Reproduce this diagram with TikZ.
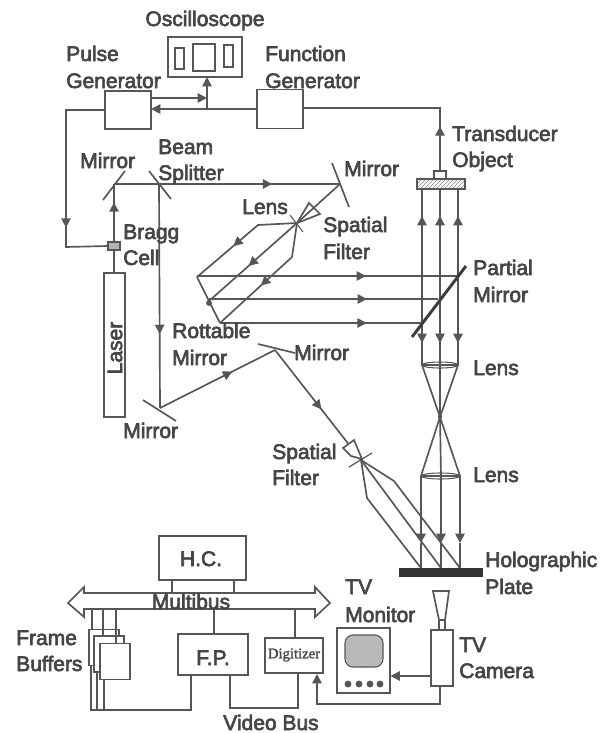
\documentclass[tikz,border=0pt]{standalone}
\usepackage{fontspec}
\setmainfont{Liberation Sans}
\newfontfamily\lab[FakeBold=3]{Liberation Sans}
\newfontfamily\serifsmall[FakeBold=1.5]{Liberation Serif}
\usetikzlibrary{arrows.meta,decorations.markings,patterns,shapes.geometric}
\definecolor{ink}{HTML}{565656}
\definecolor{txt}{HTML}{454545}
\tikzset{
  ln/.style={draw=ink,line width=1.25pt,line join=miter},
  arr/.style={ln,-{Triangle[length=7pt,width=7pt,color=ink]}},
  mid/.style={postaction={decorate,decoration={markings,mark=at position #1 with {\arrow[ink]{Triangle[length=7pt,width=7pt]}}}}},
  box/.style={ln,rectangle,inner sep=0pt,fill=white},
  lbl/.style={anchor=base west,inner sep=0pt,text=txt,font=\lab\fontsize{15.75}{18}\selectfont},
  clbl/.style={anchor=base,inner sep=0pt,text=txt,font=\lab\fontsize{15.75}{18}\selectfont},
  thickm/.style={draw=ink!70!black,line width=2.2pt},
}
\begin{document}
\begin{tikzpicture}[x=0.75pt,y=-0.75pt]
\useasboundingbox (0,0) rectangle (605,733);

% ---- instruments
\node[box,minimum width=55.5pt,minimum height=30pt] (osc) at (205,57) {};
\node[box,minimum width=6.75pt,minimum height=15.75pt] (osca) at (179.5,58.5) {};
\node[box,minimum width=16.5pt,minimum height=20.25pt] (oscb) at (204,57.5) {};
\node[box,minimum width=6.75pt,minimum height=16.5pt] (oscc) at (228.5,56) {};
\node[box,minimum width=34.5pt,minimum height=28.5pt] (pg) at (128,110) {};
\node[box,minimum width=34.5pt,minimum height=29.25pt] (fg) at (280,109) {};

\coordinate (j1) at (207,98);
\coordinate (j2) at (207,109);
\coordinate (oscin) at (207,77);
\coordinate (pgr1) at (151,98);
\coordinate (pgr2) at (151,109);
\coordinate (fgl) at (257,109);
\draw[arr] (pgr1) -- (j1);
\draw[arr] (fgl) -- (pgr2);
\draw[arr] (j2) -- (oscin);

% ---- source side
\node[box,minimum width=15.75pt,minimum height=108pt] (laser) at (114.5,345) {};
\node[rectangle,draw=ink,fill=gray!60,inner sep=0pt,minimum width=9pt,minimum height=6pt,line width=.8pt] (bragg) at (114,246) {};
\coordinate (m1) at (114,184);
\coordinate (m1a) at (103,200);
\coordinate (m1b) at (125,171);
\coordinate (bs) at (159,184);
\coordinate (bsa) at (149,171);
\coordinate (bsb) at (171,199);
\coordinate (m2) at (340,184);
\coordinate (m2a) at (332,163);
\coordinate (m2b) at (349,207);
\coordinate (m3) at (160,408);
\coordinate (m3a) at (143,400);
\coordinate (m3b) at (176,421);
\coordinate (m4) at (275,350);
\coordinate (m4a) at (258,344);
\coordinate (m4b) at (295,353);
\coordinate (pgl) at (105,110);
\coordinate (c1) at (66,110);
\coordinate (c2) at (66,247);
\coordinate (lastop) at (114,273);
\draw[ln,mid=0.72] (pgl) -- (c1) -- (c2) -- (bragg.west);
\draw[ln] (lastop) -- (bragg.south);
\draw[ln,mid=0.68] (bragg.north) -- (m1);
\draw[ln] (m1a) -- (m1b);
\draw[ln] (bsa) -- (bsb);
\draw[ln] (m2a) -- (m2b);
\draw[ln] (m3a) -- (m3b);
\draw[ln] (m4a) -- (m4b);
\draw[ln,mid=0.70] (m1) -- (m2);
\draw[ln,mid=0.67] (bs) -- (m3);
\draw[ln,mid=0.63] (m3) -- (m4);

% ---- upper spatial filter
\coordinate (f1) at (297,223);
\coordinate (f1a) at (290,215);
\coordinate (f1b) at (303,232);
\coordinate (s1a) at (320,214);
\coordinate (s1b) at (309,203);
\draw[ln,fill=white] (f1) -- (s1a) -- (s1b) -- cycle;
\draw[ln] (m2) -- (f1);
\draw[ln,line width=.8pt] (f1a) -- (f1b);
\coordinate (r1a) at (258,225);
\coordinate (r1b) at (197,277);
\coordinate (r2b) at (209,301);
\coordinate (r3a) at (292,257);
\coordinate (r3b) at (220,323);
\draw[ln,mid=0.60] (f1) -- (r1a) -- (r1b);
\draw[ln,mid=0.55] (f1) -- (r2b);
\draw[ln,mid=0.58] (f1) -- (r3a) -- (r3b);
\draw[ln] (r1b) -- (r3b);
\fill[ink] (209,303) circle (2.2pt);

% ---- object beam
\node[rectangle,draw=ink,pattern=north east lines,pattern color=ink!70,inner sep=0pt,minimum width=36pt,minimum height=7.5pt,line width=.9pt] (obj) at (441,184) {};
\node[box,minimum width=9pt,minimum height=6pt] (trans) at (440,175) {};
\coordinate (t1) at (440,108);
\coordinate (fgr) at (303,108);
\draw[ln,mid=0.22] (trans.north) -- (t1) -- (fgr);

\coordinate (pm1) at (412,337);
\coordinate (pm2) at (466,266);
\coordinate (e1) at (457,276);
\coordinate (e2) at (438,299);
\coordinate (e3) at (421,323);
\coordinate (r2s) at (209,299);
\coordinate (r1s) at (197,276);
\coordinate (r3s) at (220,323);
\draw[ln,mid=0.65] (r1s) -- (e1);
\draw[ln,mid=0.69] (r2s) -- (e2);
\draw[ln,mid=0.73] (r3s) -- (e3);

\coordinate (o1) at (422,189);
\coordinate (o2) at (440,189);
\coordinate (o3) at (458,189);
\coordinate (u1) at (422,216);
\coordinate (u2) at (440,216);
\coordinate (u3) at (458,216);
\coordinate (d1) at (422,343);
\coordinate (d2) at (440,343);
\coordinate (d3) at (458,343);
\coordinate (a1) at (422,365);
\coordinate (a2) at (440,365);
\coordinate (a3) at (458,365);
\coordinate (focus) at (440,417);
\coordinate (b1) at (421,476);
\coordinate (b2) at (441,476);
\coordinate (b3) at (460,476);
\coordinate (v1) at (421,543);
\coordinate (v2) at (441,543);
\coordinate (v3) at (460,543);
\coordinate (h1) at (421,568);
\coordinate (h2) at (441,568);
\coordinate (h3) at (460,568);
\foreach \n in {1,2,3}{
  \draw[arr] (a\n) -- (u\n);
  \draw[ln] (u\n) -- (o\n);
  \draw[arr] (o\n) -- (d\n);
  \draw[arr] (b\n) -- (v\n);
  \draw[ln] (v\n) -- (h\n);
}
\draw[thickm] (pm1) -- (pm2);
\draw[ln] (a1) -- (focus) -- (a3);
\draw[ln] (a2) -- (focus) -- (b2);
\draw[ln] (b1) -- (focus) -- (b3);
\fill[ink] (focus) circle (1.6pt);
\node[ellipse,draw=ink,line width=.8pt,inner sep=0pt,minimum width=27pt,minimum height=4.5pt] (lens1) at (440,365) {};
\node[ellipse,draw=ink,line width=.8pt,inner sep=0pt,minimum width=29pt,minimum height=4.5pt] (lens2) at (440.5,476) {};
\draw[ln] (a1) -- (a3);
\draw[ln] (b1) -- (b3);

% ---- lower spatial filter
\coordinate (f2) at (361,460);
\coordinate (f2a) at (349,467);
\coordinate (f2b) at (372,453);
\coordinate (s2a) at (343,448);
\coordinate (s2b) at (354,440);
\coordinate (s2c) at (362,459);
\coordinate (s2d) at (351,456);
\draw[ln,mid=0.54] (m4) -- (f2);
\draw[ln,fill=white] (s2a) -- (s2b) -- (s2c) -- (s2d) -- cycle;
\draw[ln,line width=.9pt] (f2a) -- (f2b);
\coordinate (q1) at (367,498);
\coordinate (q3) at (394,481);
\draw[ln] (f2) -- (q1) -- (h1);
\draw[ln] (f2) -- (h2);
\draw[ln] (f2) -- (q3) -- (h3);
\node[rectangle,fill=ink!60!black,inner sep=0pt,minimum width=63pt,minimum height=6.75pt] (plate) at (441,572.5) {};

% ---- computer
\node[box,minimum width=65.25pt,minimum height=33pt] (hc) at (202.5,558) {};
\coordinate (hc1) at (172,580);
\coordinate (hc2) at (234,580);
\coordinate (mb1) at (172,593);
\coordinate (mb2) at (234,593);
\draw[ln] (hc1) -- (mb1);
\draw[ln] (hc2) -- (mb2);
\draw[ln,line join=miter] (68,603) -- (84,587) -- (84,593) -- (315,593) -- (315,587) -- (330,603) -- (315,617) -- (315,609) -- (84,609) -- (84,617) -- cycle;

\foreach \nm/\bx/\by in {fba/104/647.5,fbb/109/654,fbc/115/661.5}{
  \node[box,minimum width=22.5pt,minimum height=27pt] (\nm) at (\bx,\by) {};
}
\coordinate (s1) at (92,609);
\coordinate (s2) at (103,609);
\coordinate (s3) at (116,609);
\coordinate (s1e) at (92,630);
\coordinate (s2e) at (103,636);
\coordinate (s3e) at (116,643);
\draw[ln] (s1) -- (s1e);
\draw[ln] (s2) -- (s2e);
\draw[ln] (s3) -- (s3e);
\node[box,minimum width=52.5pt,minimum height=31pt] (fp) at (213,654.5) {};
\node[box,minimum width=43.5pt,minimum height=26pt] (dig) at (294,655.5) {};
\coordinate (fpt) at (214,609);
\coordinate (digt) at (295,609);
\draw[ln] (fpt) -- (fp.north -| fpt);
\draw[ln] (digt) -- (dig.north -| digt);
\coordinate (x1) at (91,665);
\coordinate (x2) at (97,672);
\coordinate (x3) at (104,680);
\coordinate (y1) at (91,710);
\coordinate (y2) at (97,710);
\coordinate (y3) at (104,710);
\coordinate (y4) at (191,710);
\coordinate (fpb1) at (191,675);
\draw[ln] (x1) -- (y1) -- (y4) -- (fpb1);
\draw[ln] (x2) -- (y2);
\draw[ln] (x3) -- (y3);
\coordinate (fpb2) at (230,675);
\coordinate (z1) at (230,708);
\coordinate (z2) at (298,708);
\coordinate (digb) at (298,673);
\draw[ln] (fpb2) -- (z1) -- (z2) -- (digb);

% ---- TV
\node[box,minimum width=39.75pt,minimum height=48.75pt] (mon) at (363.5,660.5) {};
\node[rectangle,rounded corners=6pt,draw=ink,line width=.8pt,fill=gray!55,inner sep=0pt,minimum width=28.5pt,minimum height=24pt] (screen) at (364,651) {};
\foreach \nm/\bx in {ba/348,bb/359,bc/370,bd/380}{
  \node[circle,fill=ink,inner sep=0pt,minimum size=5.2pt] (\nm) at (\bx,684) {};
}
\node[box,minimum width=16.5pt,minimum height=42pt] (cam) at (442,658) {};
\coordinate (st1) at (439,630);
\coordinate (st2) at (439,620);
\coordinate (st3) at (445,620);
\coordinate (st4) at (445,630);
\draw[ln] (st1) -- (st2);
\draw[ln] (st4) -- (st3);
\coordinate (fu1) at (433,591);
\coordinate (fu2) at (449,591);
\draw[ln] (st2) -- (fu1) -- (fu2) -- (st3) -- cycle;
\coordinate (camL) at (431,676);
\coordinate (monR) at (390.5,676);
\draw[arr] (camL) -- (monR);
\coordinate (camB) at (440,687);
\coordinate (w1) at (440,704);
\coordinate (w2) at (317,704);
\coordinate (digin) at (317,674);
\draw[arr] (camB) -- (w1) -- (w2) -- (digin);

% ---- labels
\node[clbl] (tosc) at (205,26) {Oscilloscope};
\node[lbl] (tp1) at (66,61) {Pulse};
\node[lbl] (tp2) at (66,88) {Generator};
\node[lbl] (tf1) at (265,61) {Function};
\node[lbl] (tf2) at (265,88) {Generator};
\node[lbl] (tb1) at (158,154) {Beam};
\node[lbl] (tb2) at (158,180) {Splitter};
\node[lbl] (tm1) at (80,168) {Mirror};
\node[lbl] (tl1) at (242,214) {Lens};
\node[lbl] (ts1) at (323,232) {Spatial};
\node[lbl] (ts2) at (323,259) {Filter};
\node[lbl] (tbr1) at (123,239) {Bragg};
\node[lbl] (tbr2) at (123,265) {Cell};
\node[lbl] (tm2) at (344,176) {Mirror};
\node[lbl] (ttr) at (452,141) {Transducer};
\node[lbl] (tob) at (452,167) {Object};
\node[lbl] (tpa1) at (473,275) {Partial};
\node[lbl] (tpa2) at (473,302) {Mirror};
\node[lbl] (tro1) at (172,338) {Rottable};
\node[lbl] (tro2) at (172,365) {Mirror};
\node[lbl] (tm3) at (294,360) {Mirror};
\node[lbl] (tm4) at (123,438) {Mirror};
\node[lbl] (tl2) at (473,375) {Lens};
\node[lbl] (tl3) at (473,482) {Lens};
\node[lbl] (ts3) at (272,459) {Spatial};
\node[lbl] (ts4) at (272,485) {Filter};
\node[lbl] (tho) at (485,567) {Holographic};
\node[lbl] (tpl) at (485,594) {Plate};
\node[lbl] (ttv1) at (345,594) {TV};
\node[lbl] (ttv2) at (345,622) {Monitor};
\node[lbl] (ttv3) at (459,652) {TV};
\node[lbl] (ttv4) at (459,678) {Camera};
\node[lbl] (tfr1) at (16,645) {Frame};
\node[lbl] (tfr2) at (16,671) {Buffers};
\node[clbl] (thc) at (201,566) {H.C.};
\node[clbl] (tmb) at (191,609) {Multibus};
\node[clbl] (tfp) at (213,665) {F.P.};
\node[anchor=center,inner sep=0pt,text=txt,font=\serifsmall\fontsize{11}{12}\selectfont] (tdig) at (294,655) {Digitizer};
\node[clbl] (tvb) at (271,730) {Video Bus};
\node[anchor=center,rotate=90,inner sep=0pt,text=txt,font=\lab\fontsize{15.75}{18}\selectfont] (tlas) at (115,348) {Laser};
\end{tikzpicture}
\end{document}
